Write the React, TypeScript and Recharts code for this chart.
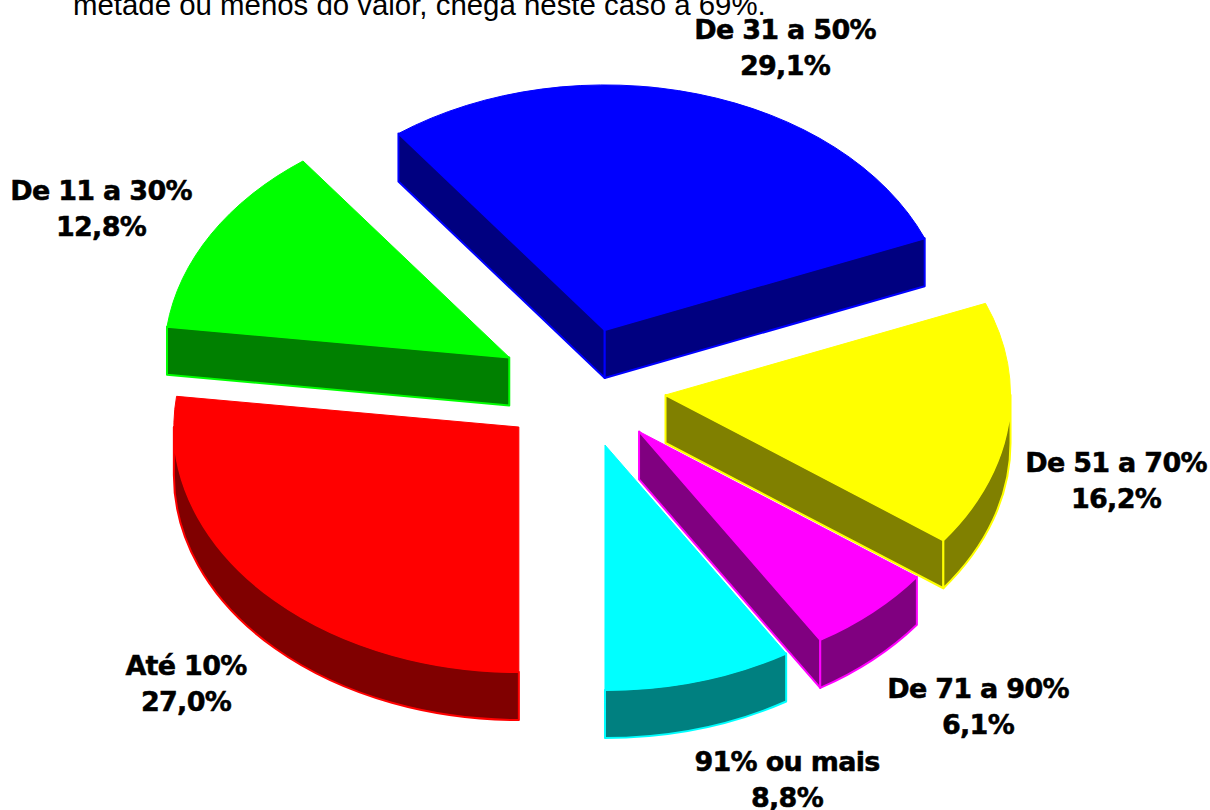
import { PieChart, Pie, Cell } from "recharts";

const categories = ["Até 10%", "De 11 a 30%", "De 31 a 50%", "De 51 a 70%", "De 71 a 90%", "91% ou mais"];
const shares = [27.0, 12.8, 29.1, 16.2, 6.1, 8.8];
const shareLabels = ["27,0%", "12,8%", "29,1%", "16,2%", "6,1%", "8,8%"];
const topColors = ["#ff0000", "#00ff00", "#0000ff", "#ffff00", "#ff00ff", "#00ffff"];
const sideColors = ["#800000", "#008000", "#000080", "#808000", "#800080", "#008080"];
const labelX = [186, 101, 785, 1116, 978, 787];
const labelY = [675, 200, 39, 472, 698, 771];

const chartData = categories.map((name, i) => ({ name, value: shares[i] }));

const TILT = 245 / 345;
const DEPTH = 48;
const EXPLODE = 0.244;
const rad = (deg: number) => (deg * Math.PI) / 180;

// recharts hands over a flat circular sector, this turns it into a tilted 3D wedge
function Wedge3D(props: any) {
  const { cx, cy, outerRadius, startAngle, endAngle, index } = props;
  const a = outerRadius;
  const b = outerRadius * TILT;
  const mid = (startAngle + endAngle) / 2;
  const ox = cx + EXPLODE * a * Math.cos(rad(mid));
  const oy = cy - EXPLODE * b * Math.sin(rad(mid));
  const px = (t: number) => ox + a * Math.cos(rad(t));
  const py = (t: number, d = 0) => oy - b * Math.sin(rad(t)) + d;
  const arc = (from: number, to: number, d = 0, sweep = 1) =>
    `A${a} ${b} 0 ${Math.abs(from - to) > 180 ? 1 : 0} ${sweep} ${px(to)} ${py(to, d)}`;

  const top = topColors[index];
  const side = sideColors[index];
  const walls: string[] = [];

  const radial = (t: number) =>
    `M${ox} ${oy}L${px(t)} ${py(t)}L${px(t)} ${py(t, DEPTH)}L${ox} ${oy + DEPTH}Z`;
  if (Math.cos(rad(startAngle)) < -1e-6) walls.push(radial(startAngle));
  if (Math.cos(rad(endAngle)) > 1e-6) walls.push(radial(endAngle));

  // outer rim, only the part in the front half of the ellipse
  [[0, -180], [360, 180]].forEach(([hi, lo]) => {
    const from = Math.min(startAngle, hi);
    const to = Math.max(endAngle, lo);
    if (from > to) {
      walls.push(
        `M${px(from)} ${py(from)}${arc(from, to)}L${px(to)} ${py(to, DEPTH)}${arc(to, from, DEPTH, 0)}Z`
      );
    }
  });

  const topPath = `M${ox} ${oy}L${px(startAngle)} ${py(startAngle)}${arc(startAngle, endAngle)}Z`;

  return (
    <g>
      {walls.map((d, i) => (
        <path key={i} d={d} fill={side} stroke={top} strokeWidth={2} strokeLinejoin="round" />
      ))}
      <path d={topPath} fill={top} stroke={top} strokeWidth={1} strokeLinejoin="round" />
    </g>
  );
}

function SliceLabel(props: any) {
  const i = props.index;
  return (
    <text
      x={labelX[i]}
      y={labelY[i]}
      textAnchor="middle"
      fontFamily="DejaVu Sans"
      fontWeight="bold"
      fontSize={27}
      letterSpacing={-0.7}
      fill="#000"
      stroke="#000"
      strokeWidth={0.5}
    >
      <tspan x={labelX[i]}>{categories[i]}</tspan>
      <tspan x={labelX[i]} dy={36}>
        {shareLabels[i]}
      </tspan>
    </text>
  );
}

export default function App() {
  return (
    <div style={{ position: "absolute", left: 0, top: 0, width: 1210, height: 810, background: "#fff" }}>
      <PieChart width={1210} height={810} margin={{ top: 0, right: 0, bottom: 0, left: 0 }}>
        <text x={73} y={15} fontFamily="Liberation Sans" fontSize={29.4} fill="#000">
          metade ou menos do valor, chega neste caso a 69%.
        </text>
        <Pie
          data={chartData}
          dataKey="value"
          nameKey="name"
          cx={582}
          cy={387.5}
          innerRadius={0}
          outerRadius={345}
          startAngle={270}
          endAngle={-90}
          paddingAngle={0}
          shape={Wedge3D}
          label={SliceLabel}
          labelLine={false}
          isAnimationActive={false}
        >
          {chartData.map((d, i) => (
            <Cell key={d.name} fill={topColors[i]} />
          ))}
        </Pie>
      </PieChart>
    </div>
  );
}
